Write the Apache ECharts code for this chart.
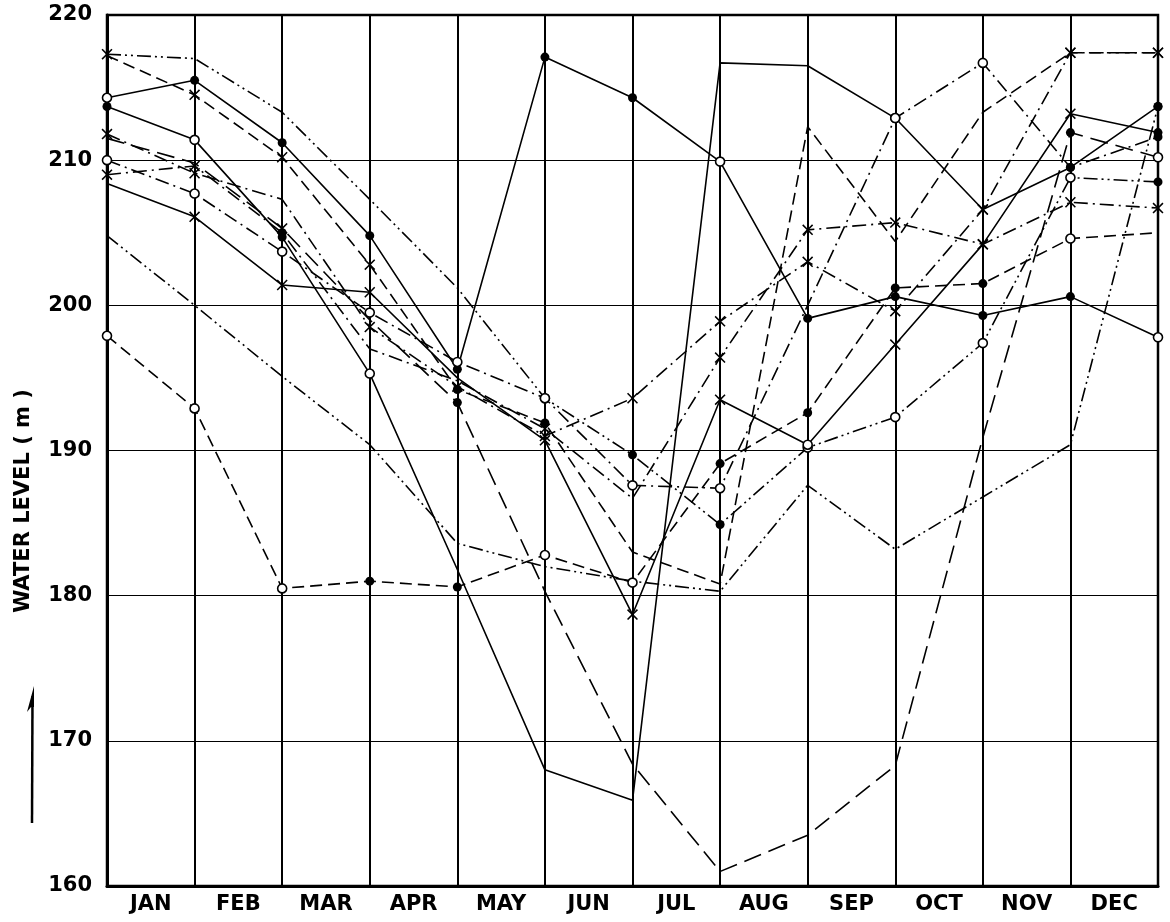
<!DOCTYPE html>
<html><head><meta charset="utf-8">
<script src="https://cdn.jsdelivr.net/npm/echarts@6/dist/echarts.min.js"></script>
<style>html,body{margin:0;padding:0;background:#fff}#chart{width:1170px;height:922px}</style>
</head><body><div id="chart"></div>
<script>
// ---- data ----
const months = ['JAN','FEB','MAR','APR','MAY','JUN','JUL','AUG','SEP','OCT','NOV','DEC'];
const yMin = 160, yMax = 220, yStep = 10;
const yAxisTitle = 'WATER LEVEL ( m )';

// 13 readings per curve: start of JAN ... end of DEC
const seriesA = [214.3, 215.5, 211.2, 204.8, 195.6, 217.1, 214.3, 209.9, 199.1, 200.6, 199.3, 200.6, 197.8];
const seriesB = [213.7, 211.4, 204.7, 195.3, 181.8, 168.0, 165.9, 216.7, 216.5, 212.9, 206.6, 209.5, 213.7];
const seriesC = [217.3, 217.0, 213.3, 207.3, 201.2, 193.6, 189.7, 184.9, 190.2, 192.3, 197.4, 208.8, 208.5];
const seriesD = [211.8, 209.1, 207.3, 198.5, 194.4, 191.0, 193.6, 198.9, 203.0, 199.6, 206.6, 217.4, 217.4];
const seriesE = [197.9, 192.9, 180.5, 181.0, 180.6, 182.8, 180.9, 189.1, 192.6, 201.2, 201.5, 204.6, 205.0];
const seriesF = [211.5, 209.8, 205.3, 199.0, 193.3, 180.3, 168.4, 161.0, 163.5, 168.3, 190.9, 211.9, 210.2];
const seriesG = [217.2, 214.5, 210.2, 202.8, 194.2, 191.9, 183.0, 180.8, 212.3, 204.4, 213.3, 217.4, 217.4];
const seriesH = [208.4, 206.1, 201.4, 200.9, 195.0, 190.7, 178.7, 193.5, 190.4, 197.3, 204.2, 213.2, 211.9];
const seriesI = [210.0, 207.7, 203.7, 199.5, 196.1, 193.6, 187.6, 187.4, 200.0, 212.9, 216.7, 209.5, 211.6];
const seriesJ = [209.0, 209.6, 205.0, 197.0, 194.8, 191.5, 186.7, 196.4, 205.2, 205.7, 204.2, 207.1, 206.7];
const seriesK = [204.8, 200.0, 195.1, 190.4, 183.6, 182.0, 181.0, 180.3, 187.6, 183.2, 186.8, 190.4, 213.7];

// ---- styles (marker codes: f filled dot, o open circle, x cross, - none) ----
const DASH = {
  solid: 'solid',
  dashed: [12, 6],
  longDash: [18, 8],
  dashDot: [14, 5, 2, 5],
  dashDotDot: [14, 4, 2, 4, 2, 4]
};
const styleTable = [
  { data: seriesA, marks: 'offffffoffffo', dash: DASH.solid },
  { data: seriesB, marks: 'fofo-----oxff', dash: DASH.solid },
  { data: seriesC, marks: 'x----offoooof', dash: DASH.dashDotDot },
  { data: seriesD, marks: 'xx-xxxxxxxxxx', dash: DASH.dashDot },
  { data: seriesE, marks: 'oooffooffffo-', dash: DASH.dashed },
  { data: seriesF, marks: '--x-f------fo', dash: DASH.longDash },
  { data: seriesG, marks: '-xxxff-----xx', dash: DASH.dashed },
  { data: seriesH, marks: '-xxx-xxxoxxxf', dash: DASH.solid },
  { data: seriesI, marks: 'oooooooo-ooff', dash: DASH.dashDot },
  { data: seriesJ, marks: 'xxf--x-xxxxxx', dash: DASH.dashDot },
  { data: seriesK, marks: '------------f', dash: DASH.dashDotDot }
];

const CROSS = 'path://M0,1L1,0L5,4L9,0L10,1L6,5L10,9L9,10L5,6L1,10L0,9L4,5Z';
function pointStyle(c) {
  if (c === 'f') return { symbol: 'circle', symbolSize: 9, itemStyle: { color: '#000' } };
  if (c === 'o') return { symbol: 'circle', symbolSize: 9, itemStyle: { color: '#fff', borderColor: '#000', borderWidth: 1.6 } };
  if (c === 'x') return { symbol: CROSS, symbolSize: 11, itemStyle: { color: '#000' } };
  return { symbol: 'none' };
}

const series = styleTable.map((s, k) => ({
  type: 'line',
  xAxisIndex: 0,
  yAxisIndex: 0,
  name: 'curve' + k,
  showSymbol: true,
  animation: false,
  lineStyle: { color: '#000', width: 1.6, type: s.dash },
  data: s.data.map((v, i) => Object.assign({ value: [i, v] }, pointStyle(s.marks[i] || '-'))),
  z: 3
}));

const chart = echarts.init(document.getElementById('chart'), null, { renderer: 'canvas' });
chart.setOption({
  backgroundColor: '#fff',
  animation: false,
  grid: { left: 107, right: 12, top: 15, bottom: 36, show: true, borderColor: '#000', borderWidth: 2.5, backgroundColor: 'transparent' },
  xAxis: [
    {
      type: 'value', min: 0, max: months.length, interval: 1,
      axisLine: { show: true, lineStyle: { color: '#000', width: 3 } },
      axisTick: { show: false },
      axisLabel: { show: false },
      splitLine: { show: true, lineStyle: { color: '#000', width: 2 } }
    },
    {
      type: 'category', data: months, boundaryGap: true, position: 'bottom',
      axisLine: { show: false }, axisTick: { show: false },
      axisLabel: { color: '#000', fontFamily: 'DejaVu Sans', fontWeight: 'bold', fontSize: 21, margin: 8 },
      splitLine: { show: false }
    }
  ],
  yAxis: {
    type: 'value', min: yMin, max: yMax, interval: yStep,
    axisLine: { show: true, lineStyle: { color: '#000', width: 3 } },
    axisTick: { show: false },
    axisLabel: { color: '#000', fontFamily: 'DejaVu Sans', fontWeight: 'bold', fontSize: 21, margin: 15 },
    splitLine: { show: true, lineStyle: { color: '#000', width: 1.2 } }
  },
  graphic: [
    {
      type: 'text', x: 24, y: 501, rotation: Math.PI / 2,
      style: { text: yAxisTitle, fill: '#000', font: 'bold 21px "DejaVu Sans"', align: 'center', verticalAlign: 'middle' }
    },
    { type: 'line', shape: { x1: 32, y1: 823, x2: 32.5, y2: 696 }, style: { stroke: '#000', lineWidth: 2.5 } },
    { type: 'polygon', shape: { points: [[34, 686], [27, 712], [31, 707], [34, 707]] }, style: { fill: '#000' } }
  ],
  series: series
});
</script></body></html>
